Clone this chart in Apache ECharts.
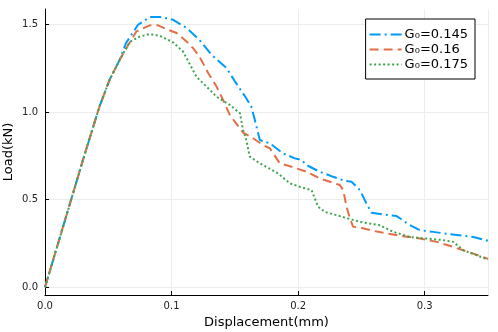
<!DOCTYPE html>
<html>
<head>
<meta charset="utf-8">
<script src="https://cdn.jsdelivr.net/npm/echarts@6/dist/echarts.min.js"></script>
<style>
  html, body { margin: 0; padding: 0; background: #fff; }
  #chart { width: 498px; height: 332px; }
</style>
</head>
<body>
<div id="chart"></div>
<script>
// G0 = 0.145
var xA = [0, 0.03, 0.043, 0.051, 0.059, 0.064, 0.0735, 0.0828, 0.092, 0.101, 0.112, 0.122, 0.1315, 0.1434, 0.151, 0.159, 0.163, 0.1658, 0.1697, 0.1776, 0.188, 0.1974, 0.2027, 0.2066, 0.217, 0.2277, 0.2369, 0.2422, 0.2488, 0.254, 0.258, 0.2672, 0.2778, 0.2883, 0.2962, 0.3067, 0.3199, 0.3383, 0.35];
var yA = [0, 0.726, 1.03, 1.183, 1.297, 1.393, 1.497, 1.541, 1.541, 1.526, 1.478, 1.411, 1.326, 1.25, 1.164, 1.078, 1.03, 0.954, 0.84, 0.821, 0.764, 0.735, 0.726, 0.697, 0.659, 0.63, 0.607, 0.602, 0.554, 0.478, 0.425, 0.415, 0.406, 0.354, 0.326, 0.316, 0.303, 0.287, 0.265];
// G0 = 0.16
var xB = [0, 0.03, 0.043, 0.051, 0.059, 0.0643, 0.0722, 0.0828, 0.0893, 0.096, 0.104, 0.112, 0.117, 0.122, 0.129, 0.1355, 0.1407, 0.146, 0.151, 0.1565, 0.1644, 0.1723, 0.1776, 0.1855, 0.1948, 0.2066, 0.217, 0.233, 0.2356, 0.2383, 0.2409, 0.2435, 0.2488, 0.2593, 0.2699, 0.283, 0.2962, 0.3094, 0.3226, 0.3383, 0.35];
var yB = [0, 0.726, 1.03, 1.183, 1.297, 1.364, 1.459, 1.494, 1.494, 1.472, 1.45, 1.40, 1.364, 1.316, 1.221, 1.145, 1.069, 0.983, 0.935, 0.882, 0.85, 0.811, 0.793, 0.707, 0.687, 0.659, 0.621, 0.583, 0.554, 0.459, 0.392, 0.345, 0.341, 0.322, 0.307, 0.291, 0.278, 0.259, 0.23, 0.192, 0.162];
// G0 = 0.175
var xC = [0, 0.03, 0.043, 0.051, 0.059, 0.067, 0.0749, 0.0828, 0.0907, 0.101, 0.109, 0.114, 0.1197, 0.1276, 0.1355, 0.146, 0.154, 0.1565, 0.159, 0.1618, 0.1697, 0.1723, 0.184, 0.1934, 0.2013, 0.2106, 0.2158, 0.2211, 0.2304, 0.2395, 0.2488, 0.2646, 0.2751, 0.2883, 0.3015, 0.3146, 0.3226, 0.3305, 0.341, 0.35];
var yC = [0, 0.726, 1.03, 1.183, 1.297, 1.40, 1.43, 1.444, 1.434, 1.398, 1.345, 1.278, 1.20, 1.145, 1.087, 1.04, 0.993, 0.897, 0.84, 0.745, 0.707, 0.697, 0.65, 0.593, 0.573, 0.554, 0.459, 0.43, 0.411, 0.392, 0.373, 0.354, 0.316, 0.287, 0.278, 0.269, 0.259, 0.211, 0.183, 0.158];

var names = ['G\u2080=0.145', 'G\u2080=0.16', 'G\u2080=0.175'];
var yTicks = [0, 0.5, 1.0, 1.5];

function zip(xs, ys) {
  return xs.map(function (x, i) { return [x, ys[i]]; });
}

var chart = echarts.init(document.getElementById('chart'));
var font = 'DejaVu Sans';

var option = {
  animation: false,
  textStyle: { fontFamily: font },
  grid: { left: 45, right: 10, top: 9, bottom: 37, containLabel: false, outerBoundsMode: 'none' },
  legend: {
    orient: 'vertical',
    right: 23,
    top: 19,
    itemWidth: 32,
    itemHeight: 12,
    itemGap: 2,
    padding: [9, 7, 8, 3],
    borderColor: '#000',
    borderWidth: 1,
    borderRadius: 0,
    backgroundColor: '#fff',
    itemStyle: { opacity: 0 },
    textStyle: { fontFamily: font, fontSize: 13, color: '#000', padding: [0, 0, 0, -2] },
    data: names
  },
  xAxis: {
    type: 'value',
    min: 0,
    max: 0.35,
    interval: 0.1,
    name: 'Displacement(mm)',
    nameLocation: 'middle',
    nameGap: 21,
    nameMoveOverlap: false,
    nameTextStyle: { fontFamily: font, fontSize: 13, color: '#000' },
    axisLine: { onZero: false, lineStyle: { color: '#000', width: 1 } },
    axisTick: { inside: true, length: 4, lineStyle: { color: '#000' } },
    axisLabel: { fontSize: 10, color: '#222', margin: 6, showMaxLabel: false, formatter: function (v) { return v.toFixed(1); } },
    splitLine: { show: true, lineStyle: { color: '#ececec', width: 1 } }
  },
  yAxis: {
    type: 'value',
    min: -0.044,
    max: 1.587,
    name: 'Load(kN)',
    nameLocation: 'middle',
    nameGap: 30,
    nameMoveOverlap: false,
    nameTextStyle: { fontFamily: font, fontSize: 13, color: '#000' },
    axisLine: { show: true, onZero: false, lineStyle: { color: '#000', width: 1 } },
    axisTick: { show: true, inside: true, length: 4, customValues: yTicks, lineStyle: { color: '#000' } },
    axisLabel: { fontSize: 10, color: '#222', margin: 7, customValues: yTicks, formatter: function (v) { return v.toFixed(1); } },
    splitLine: { show: true, lineStyle: { color: '#ececec', width: 1 } }
  },
  series: [
    {
      name: names[0], type: 'line', symbol: 'none', smooth: false,
      data: zip(xA, yA), z: 3,
      lineStyle: { color: '#009AFA', width: 2, type: [11, 4, 2, 4] },
      itemStyle: { color: '#009AFA' }
    },
    {
      name: names[1], type: 'line', symbol: 'none', smooth: false,
      data: zip(xB, yB), z: 4,
      lineStyle: { color: '#E36F47', width: 2, type: [9, 5] },
      itemStyle: { color: '#E36F47' }
    },
    {
      name: names[2], type: 'line', symbol: 'none', smooth: false,
      data: zip(xC, yC), z: 5,
      lineStyle: { color: '#3EA44E', width: 2, type: [2, 2.5] },
      itemStyle: { color: '#3EA44E' }
    }
  ]
};

chart.setOption(option);
</script>
</body>
</html>
